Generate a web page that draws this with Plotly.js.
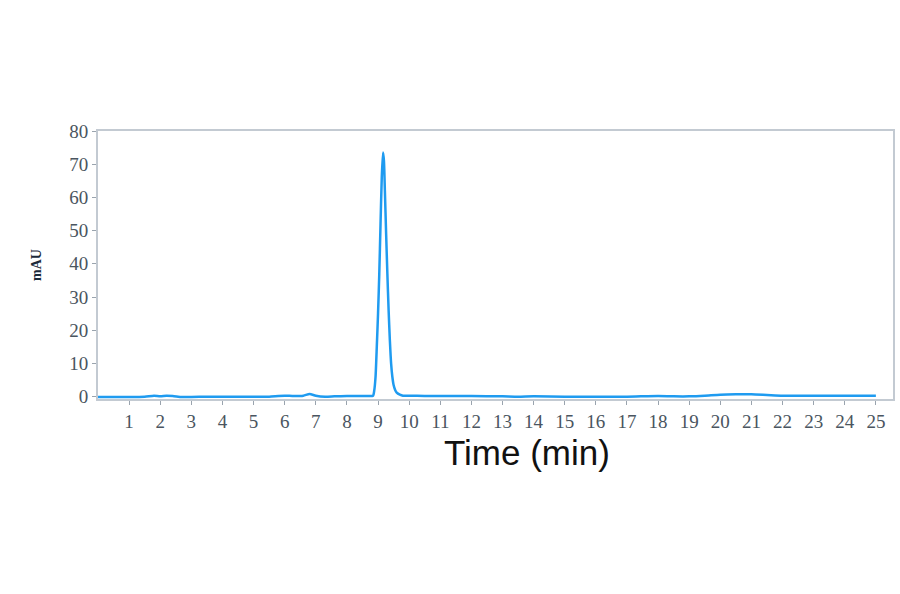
<!DOCTYPE html>
<html>
<head>
<meta charset="utf-8">
<script src="https://cdn.plot.ly/plotly-3.0.1.min.js"></script>
<style>
  html, body { margin: 0; padding: 0; background: #ffffff; }
  #plot { width: 900px; height: 594px; }
</style>
</head>
<body>
<div id="plot"></div>
<script>
// chromatogram: retention time (min) vs absorbance (mAU)
var time = [0, 0.5, 1.0, 1.5, 1.8, 2.0, 2.2, 2.4, 2.7, 3.0, 3.5, 4.0, 4.5, 5.0, 5.5,
  5.8, 6.0, 6.3, 6.6, 6.8, 7.0, 7.3, 7.6, 8.0, 8.4, 8.7, 8.84, 8.88, 8.92, 8.96,
  9.0, 9.04, 9.08, 9.12, 9.16, 9.19, 9.22, 9.26, 9.30, 9.34, 9.38, 9.42, 9.46, 9.50,
  9.55, 9.6, 9.7, 9.8, 10.0, 10.5, 11.0, 12.0, 13.0, 13.5, 14.0, 15.0, 16.0, 17.0,
  18.0, 18.5, 19.0, 19.5, 20.0, 20.5, 21.0, 21.5, 22.0, 23.0, 24.0, 25.0];
var mau = [-0.1, -0.1, -0.1, 0.0, 0.3, 0.1, 0.3, 0.2, -0.1, -0.1, 0.0, 0.0, 0.0, 0.0, 0.0,
  0.2, 0.3, 0.2, 0.3, 0.8, 0.3, 0.0, 0.1, 0.2, 0.2, 0.2, 0.3, 2, 6, 15,
  25, 37, 52, 66, 73.5, 71, 62, 49, 37, 26, 17, 10, 6, 3.5,
  2, 1.2, 0.6, 0.3, 0.3, 0.2, 0.2, 0.2, 0.1, 0.0, 0.1, 0.0, 0.0, 0.0,
  0.2, 0.1, 0.1, 0.3, 0.6, 0.7, 0.7, 0.5, 0.3, 0.3, 0.3, 0.3];

var xTicks = [1, 2, 3, 4, 5, 6, 7, 8, 9, 10, 11, 12, 13, 14, 15, 16, 17, 18, 19, 20, 21, 22, 23, 24, 25];
var yTicks = [0, 10, 20, 30, 40, 50, 60, 70, 80];

var trace = {
  x: time,
  y: mau,
  type: 'scatter',
  mode: 'lines',
  line: { color: '#1f9bf0', width: 2.5, shape: 'spline', smoothing: 0.6 },
  hoverinfo: 'x+y'
};

var tickFont = { family: 'Liberation Serif, DejaVu Serif, serif', size: 19, color: '#4a5560' };

var layout = {
  width: 900,
  height: 594,
  margin: { l: 98, r: 7, t: 131, b: 195 },
  paper_bgcolor: '#ffffff',
  plot_bgcolor: '#ffffff',
  showlegend: false,
  xaxis: {
    range: [0, 25.55],
    tickvals: xTicks,
    ticktext: xTicks.map(String),
    ticks: 'outside',
    ticklen: 4,
    tickcolor: '#9aa4ae',
    tickfont: tickFont,
    showgrid: false,
    zeroline: false,
    showline: true,
    linecolor: '#c3cad2',
    linewidth: 2,
    mirror: true
  },
  yaxis: {
    range: [-0.7, 80],
    tickvals: yTicks,
    ticks: 'outside',
    ticklen: 4,
    tickcolor: '#9aa4ae',
    tickfont: tickFont,
    showgrid: false,
    zeroline: false,
    showline: true,
    linecolor: '#c3cad2',
    linewidth: 2,
    mirror: true,
    title: {
      text: '<b>mAU</b>',
      font: { family: 'Liberation Serif, DejaVu Serif, serif', size: 14, color: '#1c2a3a' },
      standoff: 24
    }
  },
  annotations: [{
    // the x title sits right of centre in the original
    text: 'Time (min)',
    xref: 'paper', yref: 'paper',
    x: 0.54, y: -0.198,
    xanchor: 'center', yanchor: 'middle',
    showarrow: false,
    font: { family: 'Liberation Sans, Arial, sans-serif', size: 35, color: '#111111' }
  }]
};

Plotly.newPlot('plot', [trace], layout, { staticPlot: true });
</script>
</body>
</html>
